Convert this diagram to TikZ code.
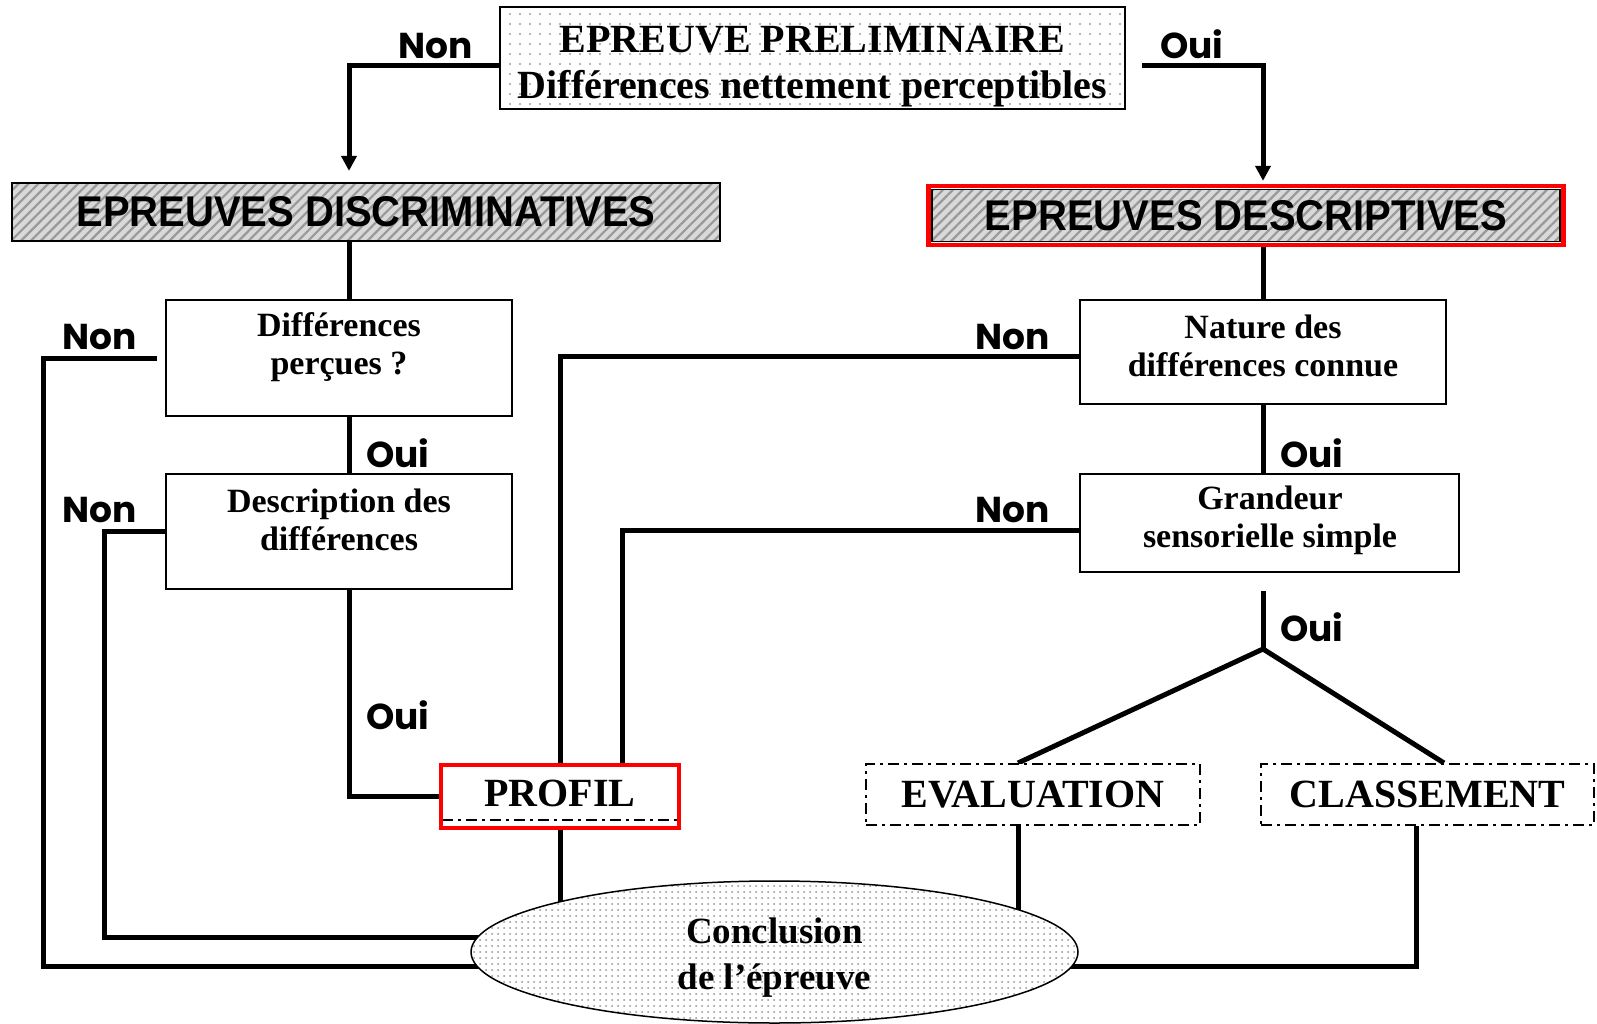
\documentclass[tikz,border=0pt]{standalone}
\usepackage{fontspec}
\usepackage{graphicx}
\setmainfont{Liberation Serif}
\newfontfamily\headfont{Liberation Sans}
\newfontfamily\choicefont{Poppins}
\usetikzlibrary{arrows.meta,patterns.meta,shapes.geometric,fit,calc,backgrounds}

\begin{document}
\begin{tikzpicture}[x=1pt,y=-1pt,
  conn/.style={line width=5pt},
  arr/.style={conn,-{Triangle[width=15pt,length=15pt]}},
  prebox/.style={draw,line width=2pt,minimum width=625pt,minimum height=102pt,
     preaction={fill=white},pattern={Dots[distance=10pt,radius=1.2pt]},pattern color=gray!75},
  pretext/.style={align=center,inner sep=0pt,font=\bfseries\fontsize{40}{46}\selectfont},
  hatchbox/.style={draw,line width=1.8pt,inner sep=0pt,
     font=\headfont\bfseries\fontsize{43}{43}\selectfont,
     preaction={fill=gray!30},pattern={Lines[angle=45,distance=7pt,line width=2.2pt]},pattern color=gray!80},
  plainbox/.style={draw,line width=2pt,fill=white},
  boxtext/.style={align=center,inner sep=0pt,font=\bfseries\fontsize{34}{38}\selectfont},
  dashbox/.style={draw,line width=2pt,fill=white,dash pattern=on 11pt off 5pt on 3pt off 5pt,
     font=\bfseries\fontsize{40}{40}\selectfont,inner sep=0pt},
  redframe/.style={draw=red,line width=4.5pt,inner sep=0pt},
  choice/.style={font=\choicefont\bfseries\fontsize{36}{36}\selectfont,inner sep=0pt},
  endnode/.style={ellipse,draw,line width=1.5pt,inner sep=0pt,minimum width=607pt,minimum height=142pt,
     preaction={fill=white},pattern={Dots[distance=6pt,radius=1pt]},pattern color=gray!85},
  endtext/.style={align=center,inner sep=0pt,font=\bfseries\fontsize{37}{46}\selectfont}
]
\useasboundingbox (0,0) rectangle (1597,1024);

% ---- boxes ----
\node[prebox] (pre) at (812.5,58) {};
\node[pretext] (preT) at (812.5,67) {EPREUVE PRELIMINAIRE\\Différences nettement perceptibles};

\node[hatchbox,minimum width=708pt,minimum height=58pt] (disc) at (366,212)
  {\scalebox{0.93}[1]{EPREUVES DISCRIMINATIVES}};
\node[hatchbox,minimum width=628pt,minimum height=52pt] (desc) at (1246,215.5)
  {\scalebox{0.93}[1]{EPREUVES DESCRIPTIVES}};
\node[redframe,inner sep=2.5pt,fit=(desc)] (descframe) {};

\node[plainbox,minimum width=346pt,minimum height=116pt] (diffp) at (339,358) {};
\node[boxtext] (diffpT) at (339,347) {Différences\\perçues ?};
\node[plainbox,minimum width=346pt,minimum height=115pt] (descd) at (339,531.5) {};
\node[boxtext] (descdT) at (339,519.5) {Description des\\différences};

\node[plainbox,minimum width=366pt,minimum height=104pt] (nature) at (1263,352) {};
\node[boxtext] (natureT) at (1263,346) {Nature des\\différences connue};
\node[plainbox,minimum width=379pt,minimum height=98pt] (grand) at (1269.5,523) {};
\node[boxtext] (grandT) at (1270,520.5) {Grandeur\\sensorielle simple};

\node[dashbox,minimum width=236pt,minimum height=54pt] (prof) at (560,793) {PROFIL};
\coordinate (profLow) at ($(prof.south east)+(0,7)$);
\node[redframe,fit=(prof.north west)(profLow)] (profframe) {};
\node[dashbox,minimum width=334pt,minimum height=61pt] (eval) at (1033,794.5) {EVALUATION};
\node[dashbox,minimum width=333pt,minimum height=61pt] (class) at (1427.5,794.5) {CLASSEMENT};

\node[endnode] (endn) at (774.5,952) {};
\node[endtext] (endT) at (774.5,958) {Conclusion\\de l’épreuve};

% ---- choice labels ----
\node[choice] (non0) at (436,46) {Non};
\node[choice] (oui0) at (1192,44) {Oui};
\node[choice] (non1) at (100,337) {Non};
\node[choice] (oui1) at (398,453) {Oui};
\node[choice] (non2) at (100,510) {Non};
\node[choice] (oui2) at (398,715) {Oui};
\node[choice] (non3) at (1013,337) {Non};
\node[choice] (oui3) at (1312,453) {Oui};
\node[choice] (non4) at (1013,510) {Non};
\node[choice] (oui4) at (1312,627) {Oui};

% ---- routing points ----
\coordinate (colL) at (349,0);
\coordinate (colR) at (1263,0);
\coordinate (colP) at (622,0);
\coordinate (topRow) at (0,66);
\coordinate (farL) at (43,966);
\coordinate (midL) at (104,937);
\coordinate (branch) at (1263,649);
\coordinate (farR) at (1416,966);

% ---- connectors ----
\begin{scope}[on background layer]
  \draw[arr,shorten >=11pt] (pre.west |- topRow) -| (colL |- disc.north);
  \draw[arr,shorten >=3pt] ([xshift=16pt]pre.east |- topRow) -| (colR |- descframe.north);
  \draw[conn] (colL |- disc.south) -- (colL |- diffp.north);
  \draw[conn] (colL |- diffp.south) -- (colL |- descd.north);
  \draw[conn] (colL |- descd.south) |- (profframe.west);
  \draw[conn] ([xshift=-8pt]diffp.west) -| (farL) -- (farL -| endn.center);
  \draw[conn] (descd.west) -| (midL) -- (midL -| endn.center);
  \draw[conn] ($(nature.west)+(0,4)$) -| (profframe.north);
  \draw[conn] ($(grand.west)+(0,7)$) -| (colP |- profframe.north);
  \draw[conn] (colR |- descframe.south) -- (colR |- nature.north);
  \draw[conn] (colR |- nature.south) -- (colR |- grand.north);
  \draw[conn,shorten <=18pt] (colR |- grand.south) -- (branch);
  \draw[conn] (branch) -- ($(eval.north)+(-15,0)$);
  \draw[conn] (branch) -- ($(class.north)+(16.5,0)$);
  \draw[conn] (profframe.south) -- (profframe.south |- endn.center);
  \draw[conn] ($(eval.south)+(-15,0)$) -- ($(eval.south |- endn.center)+(-15,0)$);
  \draw[conn] (class.south -| farR) -- (farR) -- (farR -| endn.center);
\end{scope}
\end{tikzpicture}
\end{document}
